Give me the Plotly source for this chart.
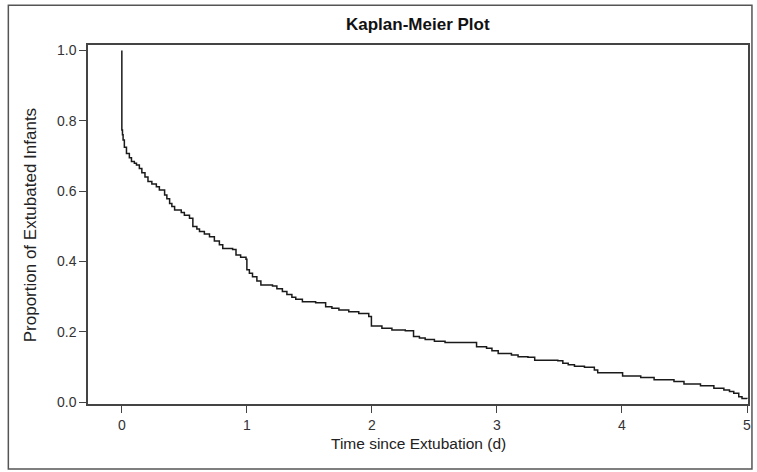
import plotly.graph_objects as go

# Kaplan-Meier step data
time_days = [0.0, 0.0, 0.005, 0.01, 0.02, 0.037, 0.06, 0.077, 0.10, 0.117, 0.14, 0.16,
             0.185, 0.209, 0.24, 0.276, 0.30, 0.342, 0.36, 0.382, 0.40, 0.422, 0.475,
             0.50, 0.541, 0.568, 0.60, 0.621, 0.66, 0.701, 0.74, 0.78, 0.807, 0.886,
             0.913, 0.95, 0.993, 1.0, 1.02, 1.045, 1.08, 1.112, 1.205, 1.24, 1.284,
             1.32, 1.36, 1.391, 1.444, 1.55, 1.63, 1.68, 1.736, 1.815, 1.895, 1.975,
             1.996, 2.08, 2.16, 2.267, 2.333, 2.38, 2.426, 2.50, 2.585, 2.837, 2.917,
             2.96, 3.01, 3.116, 3.169, 3.248, 3.302, 3.487, 3.527, 3.57, 3.62, 3.70,
             3.779, 3.806, 4.005, 4.15, 4.257, 4.416, 4.496, 4.628, 4.735, 4.815,
             4.86, 4.894, 4.934, 4.96, 5.0]
survival = [1.0, 0.774, 0.76, 0.745, 0.725, 0.707, 0.695, 0.684, 0.679, 0.674, 0.664, 0.652,
            0.640, 0.627, 0.620, 0.612, 0.603, 0.589, 0.578, 0.565, 0.556, 0.546, 0.539,
            0.531, 0.523, 0.499, 0.492, 0.485, 0.478, 0.470, 0.458, 0.447, 0.437, 0.434,
            0.418, 0.412, 0.406, 0.376, 0.366, 0.356, 0.344, 0.333, 0.330, 0.322, 0.314,
            0.306, 0.298, 0.292, 0.285, 0.282, 0.271, 0.267, 0.262, 0.257, 0.252, 0.243,
            0.216, 0.210, 0.205, 0.203, 0.186, 0.182, 0.178, 0.173, 0.169, 0.157, 0.153,
            0.146, 0.138, 0.134, 0.129, 0.127, 0.119, 0.117, 0.110, 0.106, 0.102, 0.099,
            0.091, 0.083, 0.074, 0.070, 0.063, 0.058, 0.051, 0.046, 0.039, 0.034,
            0.030, 0.025, 0.015, 0.010, 0.009]

x_ticks = [0, 1, 2, 3, 4, 5]
y_ticks = [0.0, 0.2, 0.4, 0.6, 0.8, 1.0]
y_tick_labels = ["0.0", "0.2", "0.4", "0.6", "0.8", "1.0"]

title_text = "Kaplan-Meier Plot"
x_title = "Time since Extubation (d)"
y_title = "Proportion of Extubated Infants"

FONT = "Liberation Sans, Arial, sans-serif"
INK = "#222222"

fig = go.Figure()
fig.add_trace(go.Scatter(
    x=time_days, y=survival, mode="lines", line_shape="hv",
    line=dict(color="#1a1a1a", width=1.5), showlegend=False, hoverinfo="x+y"))

axis_common = dict(showgrid=False, zeroline=False, showline=True, mirror=True,
                   linecolor="#444444", linewidth=1.5, ticks="outside", ticklen=7,
                   tickwidth=1.2, tickcolor="#444444",
                   tickfont=dict(family=FONT, size=14, color="#333333"))

fig.update_layout(
    width=757, height=472,
    margin=dict(l=88, r=6, t=45, b=68),
    paper_bgcolor="white", plot_bgcolor="white",
    font=dict(family=FONT, color=INK),
    xaxis=dict(range=[-0.2707, 5.008], tickvals=x_ticks, **axis_common),
    yaxis=dict(range=[-0.0057, 1.0156], tickvals=y_ticks, ticktext=y_tick_labels,
               **axis_common),
    annotations=[
        dict(text="<b>" + title_text + "</b>", xref="paper", yref="paper",
             x=0.5, y=1.056, showarrow=False, xanchor="center", yanchor="middle",
             font=dict(family=FONT, size=17, color="#111111")),
        dict(text=x_title, xref="paper", yref="paper", x=0.5, y=-0.1114,
             showarrow=False, xanchor="center", yanchor="middle",
             font=dict(family=FONT, size=15.5, color=INK)),
        dict(text=y_title, xref="paper", yref="paper", x=-0.0875, y=0.4986,
             showarrow=False, xanchor="center", yanchor="middle", textangle=-90,
             font=dict(family=FONT, size=17, color=INK)),
    ],
    shapes=[dict(type="rect", xref="paper", yref="paper",
                 x0=-0.1207, x1=1.006, y0=-0.181, y1=1.111,
                 line=dict(color="#555555", width=1.5), fillcolor="rgba(0,0,0,0)")],
)

fig.write_html("out.html", config={"displayModeBar": False})

# remove the browser's default body margin so the figure sits at the page origin
with open("out.html", "r", encoding="utf-8") as f:
    html = f.read()
html = html.replace("<body>", "<body style=\"margin:0;padding:0;\">", 1)
with open("out.html", "w", encoding="utf-8") as f:
    f.write(html)
